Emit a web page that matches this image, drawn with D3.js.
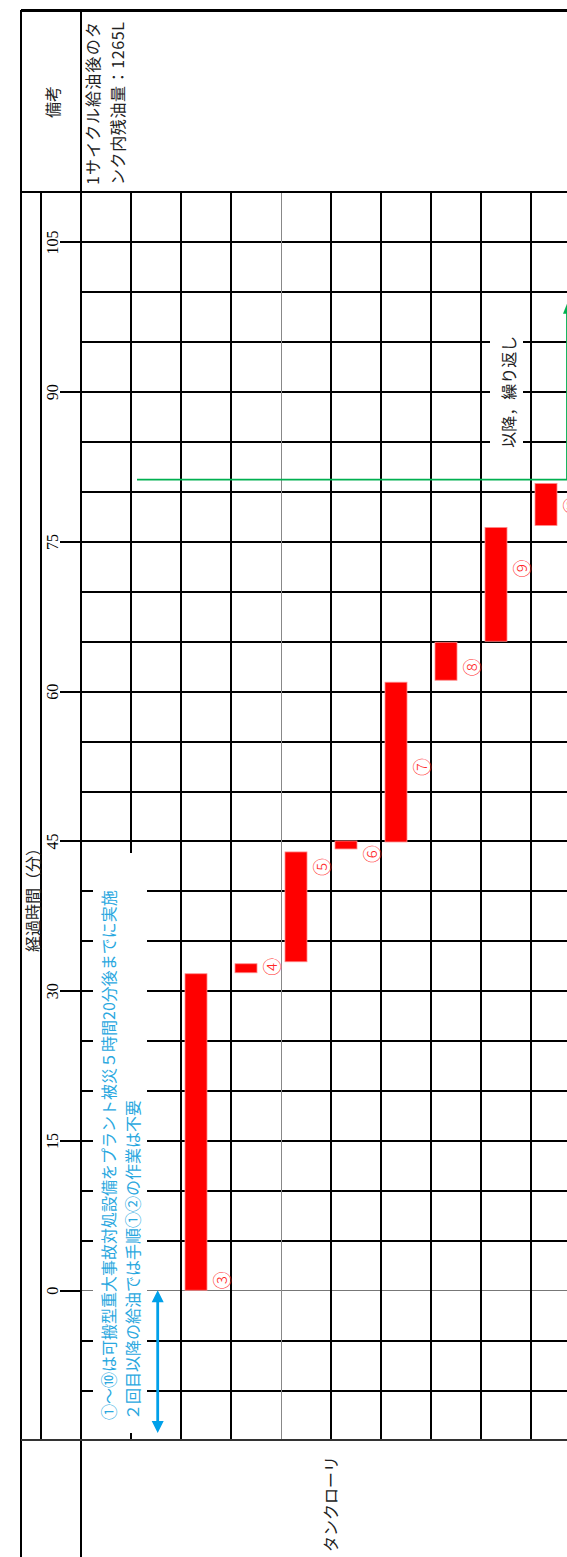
<!DOCTYPE html>
<html>
<head>
<meta charset="utf-8">
<script src="https://cdn.jsdelivr.net/npm/d3@7"></script>
<style>
body { margin: 0; background: #fff; }
svg { display: block; }
text { font-family: "Noto Sans CJK JP", sans-serif; }
</style>
</head>
<body>
<div id="chart"></div>
<script>
// one column per work step, time runs upward (minutes)
var columns = ["①", "②", "③", "④", "⑤", "⑥", "⑦", "⑧", "⑨", "⑩"];
var steps = ["③", "④", "⑤", "⑥", "⑦", "⑧", "⑨", "⑩"];
var stepStart = [0, 31.8, 32.9, 44.2, 44.9, 61.1, 65.0, 76.6];
var stepEnd = [31.7, 32.7, 43.9, 45.0, 60.9, 64.9, 76.4, 80.8];
var labelAt = [1.0, 32.4, 42.4, 43.7, 52.4, 62.4, 72.3, 78.6];

var majorTicks = [0, 15, 30, 45, 60, 75, 90, 105];
var gridTicks = [-10, -5, 0, 5, 10, 15, 20, 25, 30, 35, 40, 45, 50, 55,
    60, 65, 70, 75, 80, 85, 90, 95, 100, 105];

var noteFrom = -14.3, noteTo = 0;       // blue arrow
var repeatFrom = 81.2, repeatTo = 98.8; // green arrow

var noteLines = ["①～⑩は可搬型重大事故対処設備をプラント被災５時間20分後までに実施",
    "２回目以降の給油では手順①②の作業は不要"];
var remarkLines = ["1サイクル給油後のタ", "ンク内残油量：1265L"];

var width = 567, height = 1557;

var svg = d3.select("#chart").append("svg")
    .attr("width", width)
    .attr("height", height);

var x = d3.scaleBand().domain(columns).range([81, 581]);
var y = d3.scaleLinear().domain([-15, 110]).range([1440, 192]);

// horizontal grid (every 5 min)
var grid = svg.append("g")
    .attr("transform", "translate(81,0)")
    .call(d3.axisRight(y).tickValues(gridTicks).tickSize(520).tickFormat(""));
grid.select(".domain").remove();
grid.selectAll("line")
    .attr("stroke", "#000")
    .attr("stroke-width", 2)
    .attr("shape-rendering", "crispEdges");
grid.selectAll(".tick")
    .filter(function (d) { return d === 0; })
    .select("line")
    .attr("stroke", "#777")
    .attr("stroke-width", 1);

// vertical column lines
svg.append("g").selectAll("line")
    .data(columns.slice(1).concat(["end"]))
    .join("line")
    .attr("x1", function (d) { return d === "end" ? 581 : x(d); })
    .attr("x2", function (d) { return d === "end" ? 581 : x(d); })
    .attr("y1", y(110))
    .attr("y2", y(-15))
    .attr("shape-rendering", "crispEdges")
    .attr("stroke", function (d) { return d === "⑤" ? "#888" : "#000"; })
    .attr("stroke-width", function (d) { return d === "⑤" ? 1 : 2; });

// time axis with major ticks
var axis = svg.append("g")
    .attr("transform", "translate(81,0)")
    .call(d3.axisLeft(y).tickValues(majorTicks).tickSize(21).tickFormat(d3.format("d")));
axis.select(".domain").remove();
axis.selectAll("line")
    .attr("stroke", "#000")
    .attr("stroke-width", 2)
    .attr("shape-rendering", "crispEdges");
axis.selectAll("text")
    .attr("x", null)
    .attr("dy", null)
    .attr("transform", "translate(-29,0) rotate(-90)")
    .attr("text-anchor", "middle")
    .attr("dominant-baseline", "central")
    .attr("fill", "#000")
    .style("font-family", "'Liberation Serif', serif")
    .style("font-size", "16px");

// white boxes behind the notes
svg.append("rect")
    .attr("x", 93).attr("y", 853)
    .attr("width", 54).attr("height", 580)
    .attr("fill", "#fff");
svg.append("rect")
    .attr("x", 490).attr("y", 322)
    .attr("width", 33).attr("height", 140)
    .attr("fill", "#fff");

// frame
var frame = [
    [21, 10, 21, height],
    [81, 10, 81, height],
    [41, 192, 41, 1440],
    [21, 10, width, 10],
    [21, 192, width, 192],
    [21, 1440, width, 1440]
];
svg.append("g").selectAll("line")
    .data(frame)
    .join("line")
    .attr("x1", function (d) { return d[0]; })
    .attr("y1", function (d) { return d[1]; })
    .attr("x2", function (d) { return d[2]; })
    .attr("y2", function (d) { return d[3]; })
    .attr("shape-rendering", "crispEdges")
    .attr("stroke", function (d, i) { return i === 5 ? "#333" : "#000"; })
    .attr("stroke-width", function (d, i) { return i === 3 ? 3 : 2; });

// red bars
svg.append("g").selectAll("rect")
    .data(steps)
    .join("rect")
    .attr("x", function (d) { return x(d) + 4; })
    .attr("width", 22)
    .attr("y", function (d, i) { return y(stepEnd[i]); })
    .attr("height", function (d, i) { return y(stepStart[i]) - y(stepEnd[i]); })
    .attr("fill", "#ff0000")
    .attr("stroke", "#ff8a8a")
    .attr("stroke-width", 0.8);

svg.append("g").selectAll("text")
    .data(steps)
    .join("text")
    .attr("transform", function (d, i) {
        return "translate(" + (x(d) + 40) + "," + y(labelAt[i]) + ") rotate(-90)";
    })
    .attr("text-anchor", "middle")
    .attr("dominant-baseline", "central")
    .attr("fill", "#ff2a2a")
    .style("font-size", "18px")
    .style("font-weight", "300")
    .text(function (d) { return d; });

// green "repeat" arrow
var gy = y(repeatFrom), gx = x("⑩") + 36;
svg.append("path")
    .attr("d", "M" + (x("②") + 6) + "," + gy + "H" + gx + "V" + (y(repeatTo) + 9))
    .attr("fill", "none")
    .attr("stroke", "#00b050")
    .attr("stroke-width", 1.8);
svg.append("path")
    .attr("d", "M" + gx + "," + y(repeatTo) + "l-4,10h8z")
    .attr("fill", "#00b050");

svg.append("text")
    .attr("transform", "translate(508," + y(90) + ") rotate(-90)")
    .attr("text-anchor", "middle")
    .attr("dominant-baseline", "central")
    .attr("fill", "#222")
    .style("font-size", "16px")
    .text("以降，繰り返し");

// blue double arrow
var bx = 157.7, by1 = y(noteTo), by2 = y(noteFrom);
svg.append("line")
    .attr("x1", bx).attr("x2", bx)
    .attr("y1", by1 + 10).attr("y2", by2 - 10)
    .attr("stroke", "#00a0e9")
    .attr("stroke-width", 2.8);
svg.append("path")
    .attr("d", "M" + bx + "," + by1 + "l-6,12h12z M" + bx + "," + by2 + "l-6,-12h12z")
    .attr("fill", "#00a0e9");

svg.append("g").selectAll("text")
    .data(noteLines)
    .join("text")
    .attr("transform", function (d, i) {
        return "translate(" + (108 + i * 24) + ",1420) rotate(-90)";
    })
    .attr("dominant-baseline", "central")
    .attr("fill", "#2aa8e0")
    .style("font-size", "16px")
    .text(function (d) { return d; });

// headers
svg.append("text")
    .attr("transform", "translate(52,102) rotate(-90)")
    .attr("text-anchor", "middle")
    .attr("dominant-baseline", "central")
    .attr("fill", "#222")
    .style("font-size", "16px")
    .text("備考");

svg.append("g").selectAll("text")
    .data(remarkLines)
    .join("text")
    .attr("transform", function (d, i) {
        return "translate(" + (92 + i * 25) + ",185) rotate(-90)";
    })
    .attr("dominant-baseline", "central")
    .attr("textLength", 163)
    .attr("lengthAdjust", "spacing")
    .attr("fill", "#222")
    .style("font-size", "16px")
    .text(function (d) { return d; });

svg.append("text")
    .attr("transform", "translate(32,896) rotate(-90)")
    .attr("text-anchor", "middle")
    .attr("dominant-baseline", "central")
    .attr("fill", "#222")
    .style("font-size", "16px")
    .text("経過時間（分）");

svg.append("text")
    .attr("transform", "translate(330,1504) rotate(-90)")
    .attr("text-anchor", "middle")
    .attr("dominant-baseline", "central")
    .attr("fill", "#222")
    .style("font-size", "16px")
    .text("タンクローリ");
</script>
</body>
</html>
